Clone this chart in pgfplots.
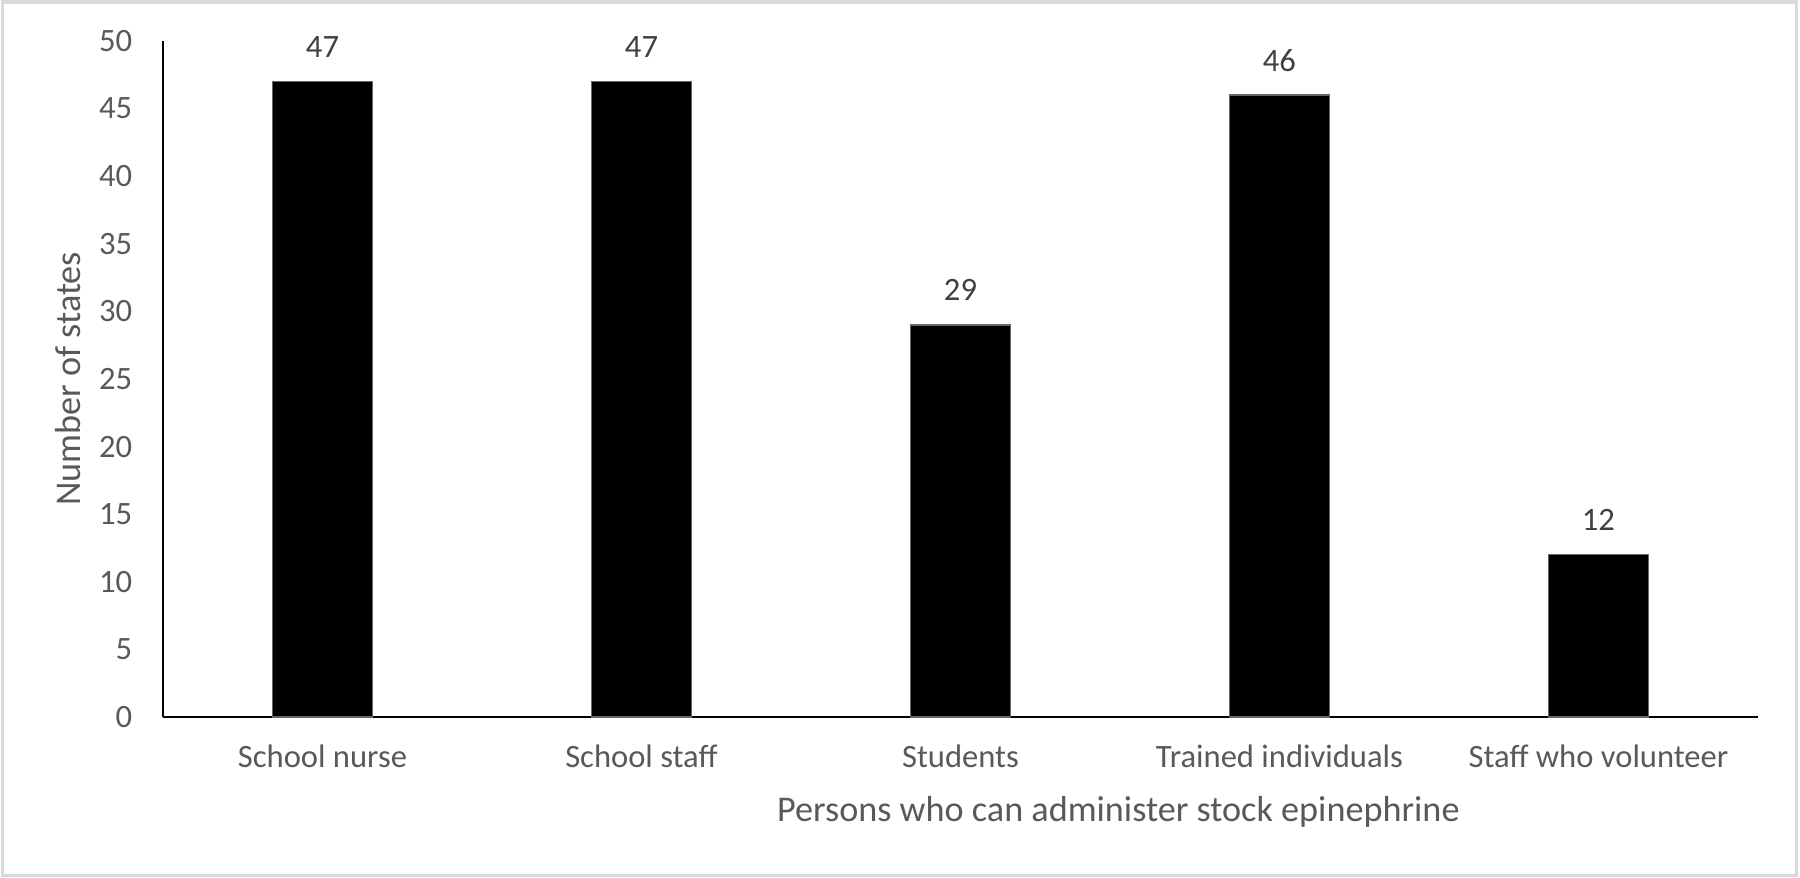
\documentclass[border=0pt]{standalone}
\usepackage{pgfplots}
\pgfplotsset{compat=1.18}
\usepackage{fontspec}
\setmainfont{Carlito}
\definecolor{tickgray}{HTML}{595959}
\definecolor{lblgray}{HTML}{404040}
\definecolor{framegray}{HTML}{D9D9D9}
\begin{document}
\begin{tikzpicture}
\useasboundingbox (0,0) rectangle (450pt,219.5pt);
\draw[framegray, line width=0.8pt] (0.6pt,0.6pt) rectangle (449.2pt,219pt);
\begin{axis}[
  at={(40.75pt,40.25pt)}, anchor=south west,
  scale only axis,
  width=398.75pt, height=169pt,
  xmin=-0.5, xmax=4.5, ymin=0, ymax=50,
  ytick={0,5,...,50},
  xtick=data,
  xticklabels={School nurse, School staff, Students, Trained individuals, Staff who volunteer},
  axis x line*=bottom, axis y line*=left,
  axis line style={black, line width=0.55pt, -},
  major tick length=0pt,
  tick style={draw=none},
  /pgf/number format/assume math mode=true,
  ticklabel style={font=\fontsize{8.15}{9.8}\selectfont, text=tickgray, inner sep=0pt},
  yticklabel style={anchor=east, xshift=-7.5pt},
  xticklabel style={anchor=base, yshift=-12.75pt},
  xlabel={Persons who can administer stock epinephrine},
  ylabel={Number of states},
  label style={font=\fontsize{9.05}{10.9}\selectfont, text=tickgray, inner sep=0pt},
  xlabel style={at={(axis description cs:0.599,-0.1553)}, anchor=base},
  ylabel style={at={(axis description cs:-0.052,0.5)}, anchor=base, rotate=0},
  ybar, bar width=25pt,
  nodes near coords,
  nodes near coords style={font=\fontsize{8.15}{9.8}\selectfont, text=lblgray, anchor=base, yshift=6pt, inner sep=0pt},
  clip=false,
]
\addplot[fill=black, draw=black!60, line width=0.3pt] coordinates {(0,47) (1,47) (2,29) (3,46) (4,12)};
\end{axis}
\end{tikzpicture}
\end{document}
